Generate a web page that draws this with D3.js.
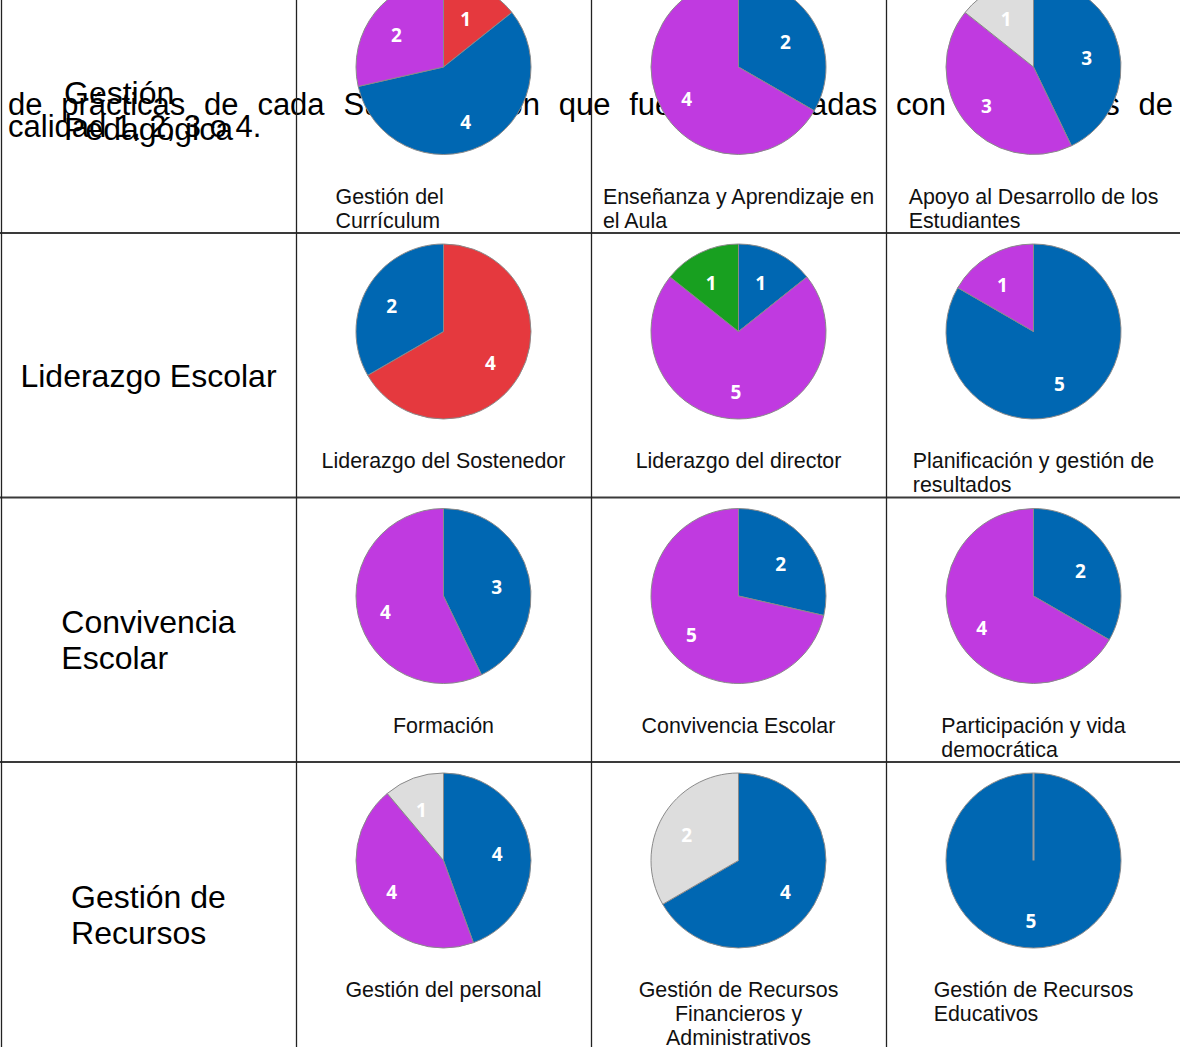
<!DOCTYPE html>
<html>
<head>
<meta charset="utf-8">
<script src="https://cdn.jsdelivr.net/npm/d3@7"></script>
<style>
  html, body { margin: 0; padding: 0; background: #fff; overflow: hidden; }
  svg { display: block; font-family: "Liberation Sans", Arial, sans-serif; }
</style>
</head>
<body>
<svg id="chart" width="1180" height="1047"></svg>
<script>
document.addEventListener('DOMContentLoaded', () => {
    'use strict';

    // Data
    const titleLines = [
        'de prácticas de cada Subdimensión que fueron evaluadas con los niveles de',
        'calidad 1, 2, 3 o 4.'
    ];
    const dimensions = [
        ['Gestión', 'Pedagógica'],
        ['Liderazgo Escolar'],
        ['Convivencia', 'Escolar'],
        ['Gestión de', 'Recursos']
    ];
    const subdimensions = [
        ['Gestión del', 'Currículum'],
        ['Enseñanza y Aprendizaje en', 'el Aula'],
        ['Apoyo al Desarrollo de los', 'Estudiantes'],
        ['Liderazgo del Sostenedor'],
        ['Liderazgo del director'],
        ['Planificación y gestión de', 'resultados'],
        ['Formación'],
        ['Convivencia Escolar'],
        ['Participación y vida', 'democrática'],
        ['Gestión del personal'],
        ['Gestión de Recursos', 'Financieros y', 'Administrativos'],
        ['Gestión de Recursos', 'Educativos']
    ];
    const levels = ['Nivel 1', 'Nivel 2', 'Nivel 3', 'Nivel 4', 'Sin nivel'];
    const levelColors = ['#e5393e', '#0067b2', '#c03ae0', '#18a020', '#dddddd'];
    // number of practices per level, same order as levels
    const counts = [
        [1, 4, 2, 0, 0],
        [0, 2, 4, 0, 0],
        [0, 3, 3, 0, 1],
        [4, 2, 0, 0, 0],
        [0, 1, 5, 1, 0],
        [0, 5, 1, 0, 0],
        [0, 3, 4, 0, 0],
        [0, 2, 5, 0, 0],
        [0, 2, 4, 0, 0],
        [0, 4, 4, 0, 1],
        [0, 4, 0, 0, 2],
        [0, 5, 0, 0, 0]
    ];

    const svg = d3.select('#chart');
    const width = 1180;

    // table geometry
    const col = d3.scaleBand().domain(d3.range(4)).range([1, 1181]);
    const rowTops = [-31.5, 233, 497.5, 762];
    const rowHeights = [264.5, 264.5, 264.5, 285];
    const radius = 87.5;
    const color = d3.scaleOrdinal().domain(levels).range(levelColors);

    // Title paragraph (justified, sits behind the table)
    let title = svg.append('g')
        .attr('class', 'title')
        .style('font-size', '31px')
        .attr('fill', '#000');
    let titleLeft = 8, titleRight = 1173;
    titleLines.forEach((line, i) => {
        let words = line.split(' ');
        let texts = words.map(w => title.append('text').attr('y', 115 + i * 22).text(w));
        let widths = texts.map(t => t.node().getComputedTextLength());
        let gap;
        if (i < titleLines.length - 1) {
            gap = (titleRight - titleLeft - d3.sum(widths)) / (words.length - 1);
        } else {
            gap = 31 * 0.278;
        }
        let x = titleLeft;
        texts.forEach((t, j) => {
            t.attr('x', x);
            x += widths[j] + gap;
        });
    });

    // grid lines
    let grid = svg.append('g').attr('class', 'grid');
    rowTops.slice(1).forEach(y => {
        grid.append('line')
            .attr('x1', 0).attr('x2', width)
            .attr('y1', y).attr('y2', y)
            .attr('stroke', '#3a3a3a')
            .attr('stroke-width', 2);
    });
    col.domain().forEach(c => {
        grid.append('line')
            .attr('x1', col(c) + 0.5).attr('x2', col(c) + 0.5)
            .attr('y1', rowTops[0]).attr('y2', 1047)
            .attr('stroke', '#222')
            .attr('stroke-width', 1.3);
    });

    // row headers: block centred in first column, lines left aligned
    dimensions.forEach((lines, r) => {
        let g = svg.append('g').style('font-size', '32px').attr('fill', '#000');
        let mid = rowTops[r] + rowHeights[r] / 2 + 10;
        let texts = lines.map((l, i) => g.append('text')
            .attr('y', mid + (i - (lines.length - 1) / 2) * 36 + 11.5)
            .text(l));
        let blockW = d3.max(texts, t => t.node().getComputedTextLength());
        texts.forEach(t => t.attr('x', col(0) + col.bandwidth() / 2 - blockW / 2));
    });

    // pies
    let pie = d3.pie().sort(null).value(d => d.value);
    let arc = d3.arc().innerRadius(0).outerRadius(radius);
    let labelArc = d3.arc().innerRadius(57).outerRadius(57);

    // captions that do not follow the usual "centred block" layout
    const centredLines = new Set(['Gestión de Recursos Financieros y Administrativos']);
    const captionBlock = { 'Gestión del Currículum': 216 };

    subdimensions.forEach((lines, k) => {
        let r = Math.floor(k / 3), c = k % 3 + 1;
        let cx = col(c) + col.bandwidth() / 2;
        let cy = rowTops[r] + 98.5;
        let slices = levels
            .map((level, i) => ({ level: level, value: counts[k][i] }))
            .filter(d => d.value > 0);
        let arcs = pie(slices);

        let g = svg.append('g').attr('transform', `translate(${cx},${cy})`);
        g.selectAll('path.slice')
            .data(arcs)
          .enter().append('path')
            .attr('class', 'slice')
            .attr('d', arc)
            .attr('fill', d => color(d.data.level))
            .attr('stroke', '#8a8a8a')
            .attr('stroke-width', 1);
        // a full circle still shows its start edge
        g.selectAll('line.sep')
            .data(arcs.filter(d => d.endAngle - d.startAngle >= 2 * Math.PI - 1e-6))
          .enter().append('line')
            .attr('class', 'sep')
            .attr('x1', 0).attr('y1', 0)
            .attr('x2', d => radius * Math.sin(d.startAngle))
            .attr('y2', d => -radius * Math.cos(d.startAngle))
            .attr('stroke', '#9a9a9a')
            .attr('stroke-width', 2);
        g.selectAll('text.value')
            .data(arcs)
          .enter().append('text')
            .attr('class', 'value')
            .attr('transform', d => {
                let p = labelArc.centroid(d);
                return `translate(${p[0] - 2.5},${p[1] + 3.5})`;
            })
            .attr('dy', '0.36em')
            .attr('text-anchor', 'middle')
            .style('font-family', '"Open Sans", sans-serif')
            .style('font-weight', 'bold')
            .style('font-size', '19px')
            .attr('fill', '#fff')
            .text(d => d.data.value);

        // caption under the pie
        let name = lines.join(' ');
        let cap = svg.append('g').style('font-size', '21.4px').attr('fill', '#111');
        let texts = lines.map((l, i) => cap.append('text')
            .attr('y', rowTops[r] + 235 + i * 24)
            .text(l));
        if (lines.length === 1 || centredLines.has(name)) {
            texts.forEach(t => t.attr('x', cx).attr('text-anchor', 'middle'));
        } else {
            let blockW = captionBlock[name] || d3.max(texts, t => t.node().getComputedTextLength());
            texts.forEach(t => t.attr('x', cx - blockW / 2));
        }
    });
});
</script>
</body>
</html>
